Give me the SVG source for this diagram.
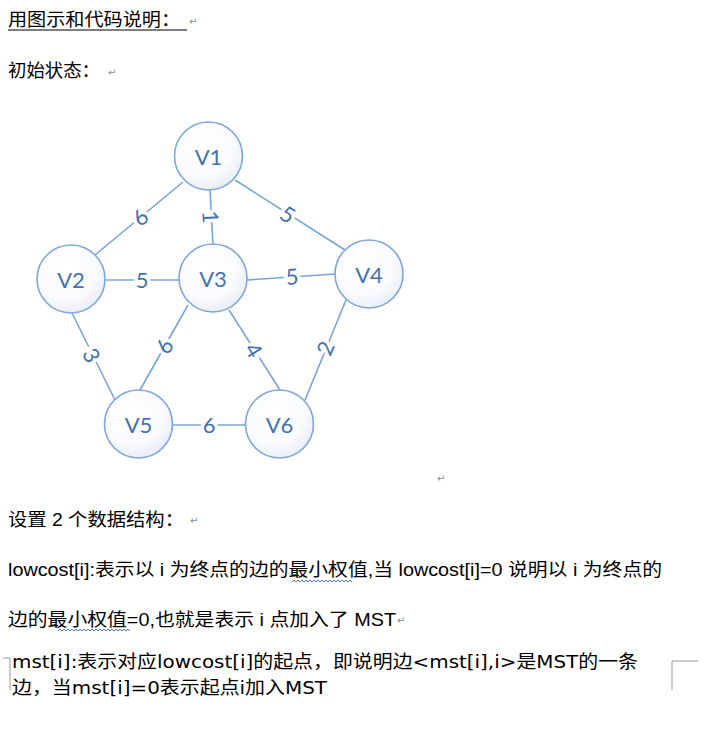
<svg xmlns="http://www.w3.org/2000/svg" width="710" height="738" viewBox="0 0 710 738">
<style>
.doc{font-family:"Liberation Sans","Noto Sans CJK SC",sans-serif;font-size:18px;fill:#000}
.doc2{font-family:"DejaVu Sans","Noto Sans CJK SC",sans-serif;font-size:18px;fill:#000}
.mark{font-family:"DejaVu Sans",sans-serif;font-size:10px;fill:#888}
.node circle{fill:url(#ng);stroke:#7ea6d6;stroke-width:1.6}
.node text{font-family:Lato,"Open Sans",sans-serif;font-size:22px;fill:#4272b0;text-anchor:middle;dominant-baseline:central}
.edges line{stroke:#78a4d8;stroke-width:1.6}
.edges text{font-family:Lato,"Open Sans",sans-serif;font-size:22px;fill:#4272b0;text-anchor:middle;dominant-baseline:central;stroke:#fff;stroke-width:7;paint-order:stroke}
.wavy{fill:none;stroke:#3b62d4;stroke-width:0.9}
.corner{fill:none;stroke:#999;stroke-width:1}
</style>
<defs>
<radialGradient id="ng" cx="0.4" cy="0.35" r="0.75">
<stop offset="0" stop-color="#ffffff"/>
<stop offset="0.6" stop-color="#fafbfe"/>
<stop offset="1" stop-color="#e2e9f5"/>
</radialGradient>
</defs>
<rect width="710" height="738" fill="#fff"/>

<text class="doc" x="8" y="26" textLength="172" lengthAdjust="spacingAndGlyphs">用图示和代码说明：</text>
<line x1="8" y1="30" x2="187" y2="30" stroke="#000" stroke-width="1"/>
<text class="mark" x="189" y="25">↵</text>
<text class="doc" x="8" y="77" textLength="92" lengthAdjust="spacingAndGlyphs">初始状态：</text>
<text class="mark" x="108" y="76">↵</text>

<g class="edges" id="edges">
<line x1="183" y1="182" x2="95" y2="255"/>
<line x1="210" y1="190" x2="213" y2="245"/>
<line x1="235" y1="180" x2="345" y2="250"/>
<line x1="106" y1="280" x2="179" y2="280"/>
<line x1="247" y1="280" x2="335" y2="274"/>
<line x1="72" y1="313" x2="115" y2="400"/>
<line x1="188" y1="305" x2="140" y2="390"/>
<line x1="229" y1="310" x2="280" y2="390"/>
<line x1="346" y1="300" x2="305" y2="400"/>
<line x1="173" y1="425" x2="245" y2="425"/>
<text transform="translate(140,217) rotate(-40)">6</text>
<text transform="translate(211,217) rotate(87)">1</text>
<text transform="translate(288,214) rotate(33)">5</text>
<text transform="translate(142,279)">5</text>
<text transform="translate(292,276) rotate(-4)">5</text>
<text transform="translate(92,355) rotate(63)">3</text>
<text transform="translate(164,346) rotate(-60)">6</text>
<text transform="translate(254,350) rotate(58)">4</text>
<text transform="translate(325,348) rotate(-67)">2</text>
<text transform="translate(209,424)">6</text>
</g>

<g class="node" id="V1"><circle cx="208.5" cy="156" r="34"/><text x="208.5" y="156">V1</text></g>
<g class="node" id="V2"><circle cx="71" cy="279" r="34"/><text x="71" y="279">V2</text></g>
<g class="node" id="V3"><circle cx="213" cy="278" r="34"/><text x="213" y="278">V3</text></g>
<g class="node" id="V4"><circle cx="369" cy="274" r="34"/><text x="369" y="274">V4</text></g>
<g class="node" id="V5"><circle cx="138.5" cy="424" r="34"/><text x="138.5" y="424">V5</text></g>
<g class="node" id="V6"><circle cx="279.5" cy="424" r="34"/><text x="279.5" y="424">V6</text></g>

<text class="mark" x="437" y="482">↵</text>

<text class="doc" x="8" y="526" textLength="176" lengthAdjust="spacingAndGlyphs">设置 2 个数据结构：</text>
<text class="mark" x="190" y="524">↵</text>
<text class="doc" x="8" y="576" textLength="654" lengthAdjust="spacingAndGlyphs">lowcost[i]:表示以 i 为终点的边的最小权值,当 lowcost[i]=0 说明以 i 为终点的</text>
<path class="wavy" d="M292,582 l2,-2 2,2 2,-2 2,2 2,-2 2,2 2,-2 2,2 2,-2 2,2 2,-2 2,2 2,-2 2,2 2,-2 2,2 2,-2 2,2 2,-2 2,2 2,-2 2,2 2,-2 2,2 2,-2 2,2 2,-2 2,2 2,-2 2,2"/>
<text class="doc" x="8" y="626" textLength="388" lengthAdjust="spacingAndGlyphs">边的最小权值=0,也就是表示 i 点加入了 MST</text>
<text class="mark" x="397" y="624">↵</text>
<path class="wavy" d="M58,631 l2,-2 2,2 2,-2 2,2 2,-2 2,2 2,-2 2,2 2,-2 2,2 2,-2 2,2 2,-2 2,2 2,-2 2,2 2,-2 2,2 2,-2 2,2 2,-2 2,2 2,-2 2,2 2,-2 2,2 2,-2 2,2 2,-2 2,2 2,-2 2,2 2,-2 2,2 2,-2 2,2"/>

<text class="doc2" x="12" y="668" textLength="626" lengthAdjust="spacingAndGlyphs">mst[i]:表示对应lowcost[i]的起点，即说明边&lt;mst[i],i&gt;是MST的一条</text>
<text class="doc2" x="12" y="694" textLength="315" lengthAdjust="spacingAndGlyphs">边，当mst[i]=0表示起点i加入MST</text>
<path class="corner" d="M3,658 H10 V690"/>
<path class="corner" d="M698,661 H672 V690"/>
</svg>
